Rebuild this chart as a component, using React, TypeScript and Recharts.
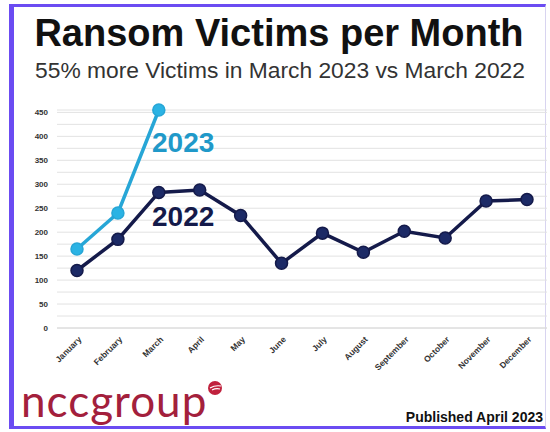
import { LineChart, Line, XAxis, YAxis, CartesianGrid } from 'recharts';

const months = ['January', 'February', 'March', 'April', 'May', 'June', 'July', 'August', 'September', 'October', 'November', 'December'];
const victims2022 = [120, 185, 283, 288, 235, 135, 198, 158, 202, 188, 265, 268];
const victims2023 = [165, 240, 455];
const yTicks = [0, 25, 50, 75, 100, 125, 150, 175, 200, 225, 250, 275, 300, 325, 350, 375, 400, 425, 450];

const data = months.map((m, i) => ({
  month: m,
  y2022: victims2022[i],
  y2023: i < victims2023.length ? victims2023[i] : null,
}));

const NAVY = '#141a4a';
const BLUE = '#27a6d6';

const YTick = (props: any) => {
  const { y, payload } = props;
  if (payload.value % 50 !== 0) return null;
  return (
    <text x={48} y={y} dy={3} textAnchor="end" fontSize={8} fontWeight="bold" fill="#333" fontFamily="Liberation Sans, Arial, sans-serif">
      {payload.value}
    </text>
  );
};

const XTick = (props: any) => {
  const { x, payload } = props;
  return (
    <text
      x={x + 5}
      y={340}
      textAnchor="end"
      fontSize={8.5}
      fontWeight="bold"
      fill="#333"
      fontFamily="Liberation Sans, Arial, sans-serif"
      transform={`rotate(-45 ${x + 5} 340)`}
    >
      {payload.value}
    </text>
  );
};

export default function App() {
  return (
    <div style={{ position: 'absolute', left: 0, top: 0, width: 550, height: 432, background: '#fff', fontFamily: 'Liberation Sans, Arial, sans-serif', overflow: 'hidden' }}>
      {/* frame */}
      <div style={{ position: 'absolute', left: 9, top: 4, width: 537, height: 425, borderLeft: '5px solid #6b4cf2', borderTop: '3px solid #6b4cf2', borderBottom: '3px solid #6b4cf2', borderRight: '1px solid #d8d4f0', boxSizing: 'border-box' }} />
      <div style={{ position: 'absolute', left: 0, top: 12, width: 558, textAlign: 'center', fontSize: 38, fontWeight: 'bold', color: '#111', lineHeight: '42px' }}>
        Ransom Victims per Month
      </div>
      <div style={{ position: 'absolute', left: 0, top: 57, width: 560, textAlign: 'center', fontSize: 22.8, color: '#333', lineHeight: '26px' }}>
        55% more Victims in March 2023 vs March 2022
      </div>
      <div style={{ position: 'absolute', left: 0, top: 0 }}>
        <LineChart width={550} height={432} data={data} margin={{ top: 110, right: 3, bottom: 0, left: 0 }}>
          <CartesianGrid vertical={false} stroke="#e2e2e2" />
          <XAxis dataKey="month" height={104} padding={{ left: 20, right: 20 }} tick={<XTick />} tickLine={false} axisLine={{ stroke: '#d8d8d8' }} interval={0} />
          <YAxis width={57} domain={[0, 450]} ticks={yTicks} tick={<YTick />} tickLine={false} axisLine={false} interval={0} />
          <Line dataKey="y2022" stroke={NAVY} strokeWidth={3.5} dot={{ r: 6, fill: '#1c2a66', stroke: NAVY, strokeWidth: 1.5 }} isAnimationActive={false} />
          <Line dataKey="y2023" stroke={BLUE} strokeWidth={3.5} dot={{ r: 6, fill: '#2bb3e4', stroke: BLUE, strokeWidth: 1.5 }} connectNulls={false} isAnimationActive={false} />
        </LineChart>
      </div>
      <div style={{ position: 'absolute', left: 152, top: 129, fontSize: 28, fontWeight: 'bold', color: '#2099c9', lineHeight: '28px' }}>2023</div>
      <div style={{ position: 'absolute', left: 152, top: 203, fontSize: 28, fontWeight: 'bold', color: NAVY, lineHeight: '28px' }}>2022</div>
      {/* logo */}
      <div style={{ position: 'absolute', left: 21, top: 376, fontSize: 44, color: '#a3203c', fontFamily: 'Lato, sans-serif', lineHeight: '48px', letterSpacing: 1 }}>
        nccgroup
      </div>
      <svg style={{ position: 'absolute', left: 207, top: 380 }} width={16} height={16}>
        <circle cx={8} cy={8} r={7} fill="#c0213d" />
        <path d="M3 8 Q8 5 14 6 M5 10 Q9 8 13 9" stroke="#fff" strokeWidth={1.2} fill="none" />
      </svg>
      <div style={{ position: 'absolute', right: 7, top: 408, fontSize: 14, fontWeight: 'bold', color: '#111', lineHeight: '18px' }}>
        Published April 2023
      </div>
    </div>
  );
}
